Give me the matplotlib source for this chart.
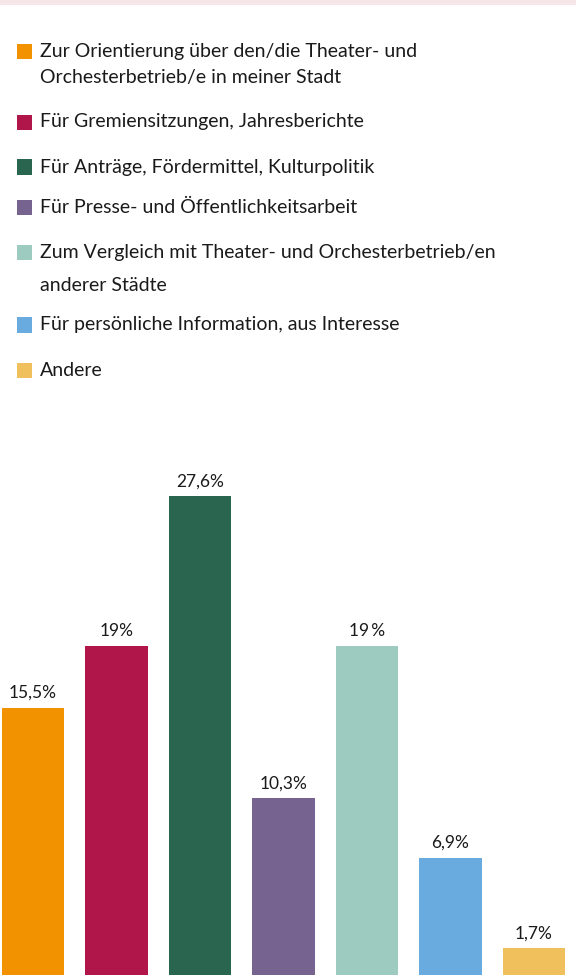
import matplotlib
matplotlib.use("Agg")
import matplotlib.pyplot as plt
from matplotlib.patches import Rectangle

# categories (legend text, one entry per line as drawn) and values in percent
legend_lines = [
    ["Zur Orientierung über den/die Theater- und", "Orchesterbetrieb/e in meiner Stadt"],
    ["Für Gremiensitzungen, Jahresberichte"],
    ["Für Anträge, Fördermittel, Kulturpolitik"],
    ["Für Presse- und Öffentlichkeitsarbeit"],
    ["Zum Vergleich mit Theater- und Orchesterbetrieb/en", "anderer Städte"],
    ["Für persönliche Information, aus Interesse"],
    ["Andere"],
]
values = [15.5, 19, 27.6, 10.3, 19, 6.9, 1.7]
value_labels = ["15,5%", "19%", "27,6%", "10,3%", "19\u2009%", "6,9%", "1,7%"]
colors = ["#f39200", "#b01649", "#2a6550", "#76638f", "#9ecbc0", "#69abdf", "#efc05c"]

W, H = 576, 975
plt.rcParams['font.family'] = ['Lato', 'DejaVu Sans']
fig = plt.figure(figsize=(W / 100, H / 100), dpi=100)
fig.patch.set_facecolor("white")

# thin pink band at the very top
fig.patches.append(Rectangle((0, 1 - 5 / H), 1, 5 / H, transform=fig.transFigure,
                             facecolor="#f6e6ea", edgecolor="none"))

# legend drawn by hand: square + text lines (pixel y centres)
square_y = [51, 122, 167, 207, 252, 325, 370]
second_line_y = {0: 78, 4: 285}
for i, lines in enumerate(legend_lines):
    yc = square_y[i]
    fig.patches.append(Rectangle((17 / W, 1 - (yc + 7.5) / H), 15 / W, 15 / H,
                                 transform=fig.transFigure, facecolor=colors[i],
                                 edgecolor="none"))
    fig.text(40 / W, 1 - yc / H, lines[0], fontsize=14, color="#1a1a1a",
             va="center", ha="left")
    if len(lines) > 1:
        fig.text(40 / W, 1 - second_line_y[i] / H, lines[1], fontsize=14,
                 color="#1a1a1a", va="center", ha="left")

# bar chart, axes spans pixel rows 420..975 (baseline sits just below the edge)
ax = fig.add_axes([0, 0, 1, (975 - 420) / H])
x = list(range(len(values)))
ax.bar(x, values, width=0.743, color=colors)
ax.set_xlim(-33 / 83.5, (576 - 33) / 83.5)
ax.set_ylim(0.17, 31.98)
for xi, v, lab in zip(x, values, value_labels):
    ax.annotate(lab, (xi, v), xytext=(0, 15), textcoords="offset pixels",
                ha="center", va="center", fontsize=12.5, color="#1a1a1a")
ax.axis("off")

fig.savefig("out.png", dpi=100)
